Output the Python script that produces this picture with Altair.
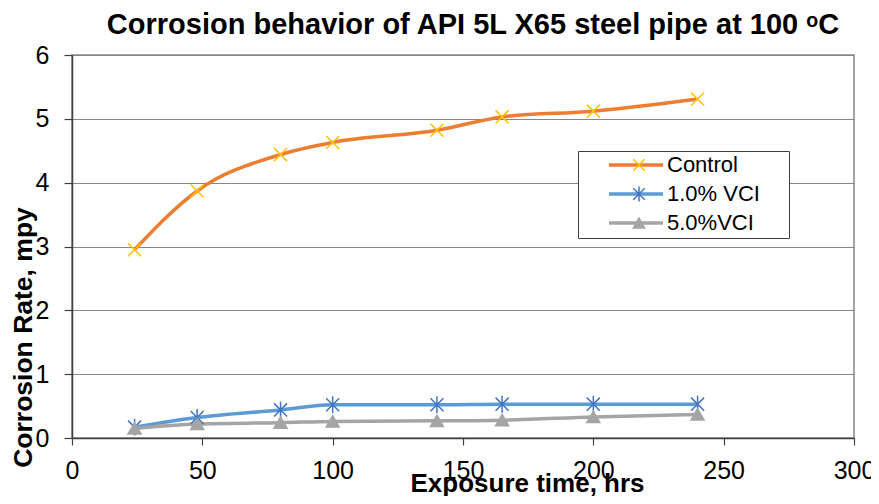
import altair as alt
import pandas as pd

# ---- data ----
hours = [24, 48, 80, 100, 140, 165, 200, 240]
control = [2.95, 3.87, 4.44, 4.63, 4.82, 5.03, 5.12, 5.31]
vci_1 = [0.17, 0.32, 0.44, 0.52, 0.52, 0.53, 0.53, 0.53]
vci_5 = [0.15, 0.22, 0.24, 0.26, 0.27, 0.28, 0.33, 0.37]

series_names = ["Control", "1.0% VCI", "5.0%VCI"]
line_colors = ["#ED7D31", "#5B9BD5", "#A5A5A5"]
marker_colors = ["#FFC000", "#4472C4", "#A5A5A5"]
marker_fills = ["transparent", "transparent", "#A5A5A5"]
marker_shapes = [
    "M-1,-1L1,1M-1,1L1,-1",
    "M-1,-1L1,1M-1,1L1,-1M0,-1.3L0,1.3",
    "triangle-up",
]
x_ticks = [0, 50, 100, 150, 200, 250, 300]
y_ticks = [0, 1, 2, 3, 4, 5, 6]

rows = []
for i, (name, vals) in enumerate(zip(series_names, [control, vci_1, vci_5])):
    for h, v in zip(hours, vals):
        rows.append({"hours": h, "rate": v, "series": name, "marker_id": i})
df = pd.DataFrame(rows)

FONT = "Liberation Sans"
DARK = "#404040"

x_enc = alt.X(
    "hours:Q",
    scale=alt.Scale(domain=[0, 300], nice=False),
    axis=alt.Axis(
        values=x_ticks, grid=False, tickSize=7, tickColor=DARK, tickWidth=1.2,
        domainColor=DARK, domainWidth=1.5, labelFont=FONT, labelFontSize=25,
        labelColor="black", labelPadding=13, labelFlush=False, labelOverlap=False,
        title="Exposure time, hrs", titleFont=FONT, titleFontSize=26,
        titleFontWeight="bold", titleColor="black", titleX=455, titleY=53,
        titleBaseline="alphabetic", titleAlign="center",
    ),
)
y_enc = alt.Y(
    "rate:Q",
    scale=alt.Scale(domain=[0, 6], nice=False),
    axis=alt.Axis(
        values=y_ticks, grid=True, gridColor="#868686", gridWidth=1.2,
        tickSize=8, tickColor=DARK, tickWidth=1.2, domainColor=DARK, domainWidth=1.5,
        labelFont=FONT, labelFontSize=25, labelColor="black", labelPadding=15,
        labelFlush=False, labelOverlap=False,
        title="Corrosion Rate, mpy", titleFont=FONT, titleFontSize=26.5,
        titleFontWeight="bold", titleColor="black", titleAngle=270,
        titleX=-41, titleY=282, titleBaseline="alphabetic", titleAlign="center",
    ),
)

base = alt.Chart(df)

lines = base.mark_line(strokeWidth=3.5, interpolate="monotone").encode(
    x=x_enc,
    y=y_enc,
    color=alt.Color(
        "series:N",
        scale=alt.Scale(domain=series_names, range=line_colors),
        legend=alt.Legend(
            # a blank spacer title on the right widens the legend frame
            title="\u2800", titleOrient="right", titlePadding=18, titleFontSize=10,
            titleColor="transparent",
            orient="none", legendX=506, legendY=96, padding=4,
            clipHeight=20, rowPadding=7, symbolType="stroke", symbolSize=54 * 54,
            symbolStrokeWidth=3.5, symbolOffset=25, labelOffset=2,
            labelFont=FONT, labelFontSize=22, labelColor="black",
            strokeColor=DARK, fillColor="white",
        ),
    ),
)

marker_legend = alt.Legend(
    title=None, orient="none", legendX=506, legendY=96, padding=4,
    clipHeight=20, rowPadding=7, symbolSize=130, symbolStrokeWidth=1.5,
    symbolOffset=46, labelOffset=0, labelExpr="''", labelFontSize=22,
)

ids = [0, 1, 2]
points = base.mark_point(filled=False, size=170, strokeWidth=1.5, opacity=1).encode(
    x=x_enc,
    y=y_enc,
    stroke=alt.Stroke("marker_id:N", scale=alt.Scale(domain=ids, range=marker_colors),
                      legend=marker_legend),
    fill=alt.Fill("marker_id:N", scale=alt.Scale(domain=ids, range=marker_fills),
                  legend=marker_legend),
    shape=alt.Shape("marker_id:N", scale=alt.Scale(domain=ids, range=marker_shapes),
                    legend=marker_legend),
)

chart = (
    alt.layer(lines, points)
    .properties(
        width=782,
        height=383,
        autosize=alt.AutoSizeParams(type="none"),
        padding={"left": 64, "top": 47, "right": 17, "bottom": 58},
        background="white",
        title=alt.Title(
            text="Corrosion behavior of API 5L X65 steel pipe at 100 \u1d52C",
            font=FONT, fontSize=29, fontWeight="bold", color="black",
            anchor="middle", dx=10, dy=40, offset=20, baseline="alphabetic",
        ),
    )
    .configure_view(stroke="#868686", strokeWidth=1.5)
)

chart.save("out.html", embed_options={"renderer": "svg", "actions": False})
